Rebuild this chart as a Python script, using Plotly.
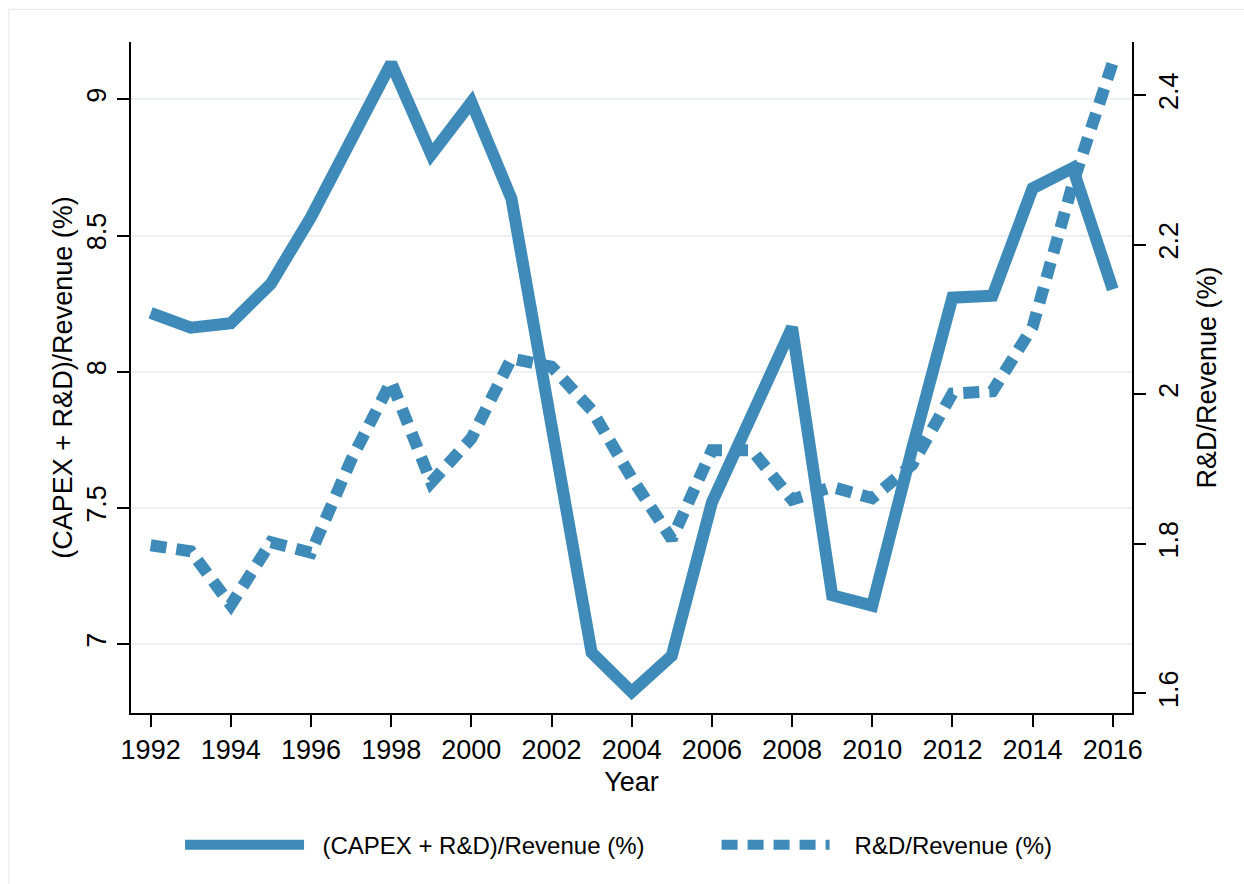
import plotly.graph_objects as go

years = list(range(1992, 2017))
capex_rd = [8.216, 8.162, 8.178, 8.323, 8.568, 8.860, 9.132, 8.797, 8.989, 8.635,
            7.770, 6.970, 6.825, 6.958, 7.520, 7.840, 8.163, 7.180, 7.142, 7.720,
            8.272, 8.279, 8.673, 8.748, 8.302]
rd = [1.798, 1.790, 1.718, 1.802, 1.788, 1.912, 2.017, 1.882, 1.941, 2.048,
      2.037, 1.979, 1.888, 1.806, 1.925, 1.925, 1.859, 1.876, 1.861, 1.906,
      2.001, 2.004, 2.090, 2.281, 2.444]

x_ticks = list(range(1992, 2017, 2))
left_ticks = [7, 7.5, 8, 8.5, 9]
left_labels = ["7", "7.5", "8", "8.5", "9"]
right_ticks = [1.6, 1.8, 2.0, 2.2, 2.4]
right_labels = ["1.6", "1.8", "2", "2.2", "2.4"]

name1 = "(CAPEX + R&D)/Revenue (%)"
name2 = "R&D/Revenue (%)"
PAD1 = "\u00a0\u00a0"
PAD2 = "\u00a0\u00a0\u00a0"

BLUE = "#3e8bba"
FONT = "Liberation Sans, Arial, Helvetica, sans-serif"

fig = go.Figure()
fig.add_trace(go.Scatter(x=years, y=capex_rd, mode="lines", name=PAD1 + name1,
                         line=dict(color=BLUE, width=12), legend="legend",
                         showlegend=True))
fig.add_trace(go.Scatter(x=years, y=rd, mode="lines", name=PAD2 + name2, yaxis="y2",
                         line=dict(color=BLUE, width=12, dash="16px,10px"),
                         legend="legend2", showlegend=True))

axis_common = dict(showline=True, linecolor="black", linewidth=1.5,
                   ticks="outside", tickcolor="black", tickwidth=1.5, ticklen=12,
                   tickfont=dict(size=27, color="black", family=FONT),
                   zeroline=False)

fig.update_layout(
    width=1244, height=884,
    showlegend=True,
    margin=dict(l=131, r=112, t=42, b=171),
    paper_bgcolor="white", plot_bgcolor="white",
    font=dict(family=FONT, color="black"),
    xaxis=dict(range=[1991.51, 2016.48], tickvals=x_ticks, showgrid=False,
               title=dict(text="Year", font=dict(size=27), standoff=8),
               **axis_common),
    yaxis=dict(range=[6.748, 9.21], tickvals=left_ticks, ticktext=left_labels,
               tickangle=-90, showgrid=True, gridcolor="#e9f1f4", gridwidth=2,
               title=dict(text=name1, font=dict(size=27), standoff=2),
               **axis_common),
    yaxis2=dict(range=[1.5735, 2.4714], tickvals=right_ticks, ticktext=right_labels,
                tickangle=-90, overlaying="y", side="right", showgrid=False,
                title=dict(text=name2, font=dict(size=27), standoff=14),
                **axis_common),
    legend=dict(x=0.049, y=-0.197, xanchor="left", yanchor="middle",
                orientation="h", itemwidth=119, font=dict(size=24, color="black"),
                bgcolor="rgba(0,0,0,0)"),
    legend2=dict(x=0.585, y=-0.197, xanchor="left", yanchor="middle",
                 orientation="h", itemwidth=108, font=dict(size=24, color="black"),
                 bgcolor="rgba(0,0,0,0)"),
    shapes=[
        dict(type="line", xref="paper", yref="paper",
             x0=(9 - 131) / 1000, x1=(1244 - 131) / 1000,
             y0=(712.7 - 9) / 671, y1=(712.7 - 9) / 671,
             line=dict(color="#e6e6e6", width=1)),
        dict(type="line", xref="paper", yref="paper",
             x0=(9 - 131) / 1000, x1=(9 - 131) / 1000,
             y0=(712.7 - 9) / 671, y1=(712.7 - 884) / 671,
             line=dict(color="#e6e6e6", width=1)),
    ],
)

fig.write_html("out.html", config={"displayModeBar": False},
               post_script="document.body.style.margin='0';")
